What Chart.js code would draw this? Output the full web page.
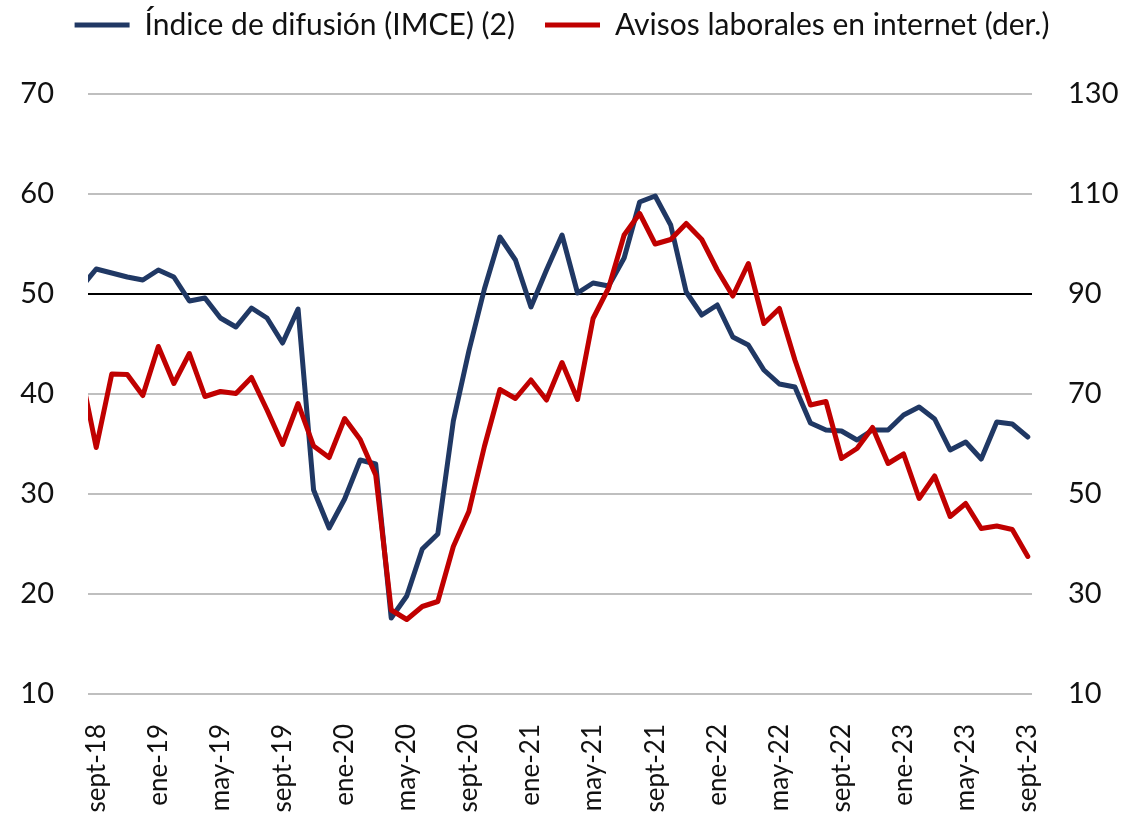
<!DOCTYPE html>
<html>
<head>
<meta charset="utf-8">
<script src="https://cdn.jsdelivr.net/npm/chart.js@4.4.0/dist/chart.umd.min.js"></script>
<style>
  html, body { margin: 0; padding: 0; background: #fff; }
  #wrap { width: 1124px; height: 824px; }
</style>
</head>
<body>
<div id="wrap"><canvas id="chart"></canvas></div>
<script>
// months, aug-18 .. sept-23 (first one sits just left of the axis and gets clipped)
const months = [
  "ago-18", "sept-18", "oct-18", "nov-18", "dic-18",
  "ene-19", "feb-19", "mar-19", "abr-19", "may-19", "jun-19", "jul-19", "ago-19", "sept-19", "oct-19", "nov-19", "dic-19",
  "ene-20", "feb-20", "mar-20", "abr-20", "may-20", "jun-20", "jul-20", "ago-20", "sept-20", "oct-20", "nov-20", "dic-20",
  "ene-21", "feb-21", "mar-21", "abr-21", "may-21", "jun-21", "jul-21", "ago-21", "sept-21", "oct-21", "nov-21", "dic-21",
  "ene-22", "feb-22", "mar-22", "abr-22", "may-22", "jun-22", "jul-22", "ago-22", "sept-22", "oct-22", "nov-22", "dic-22",
  "ene-23", "feb-23", "mar-23", "abr-23", "may-23", "jun-23", "jul-23", "ago-23", "sept-23"
];

// months that get a tick label
const tickMonths = [
  "sept-18", "ene-19", "may-19", "sept-19", "ene-20", "may-20", "sept-20", "ene-21",
  "may-21", "sept-21", "ene-22", "may-22", "sept-22", "ene-23", "may-23", "sept-23"
];

const imce = [
  50.6, 52.5, 52.1, 51.7, 51.4, 52.4, 51.7, 49.3, 49.6, 47.6, 46.7, 48.6, 47.6, 45.1, 48.5, 30.4,
  26.6, 29.5, 33.4, 33.0, 17.6, 19.8, 24.5, 26.0, 37.3, 44.3, 50.5, 55.7, 53.4, 48.7, 52.4, 55.9,
  50.1, 51.1, 50.8, 53.6, 59.2, 59.8, 56.9, 50.2, 47.9, 48.9, 45.7, 44.9, 42.4, 41.0, 40.7, 37.1,
  36.4, 36.3, 35.4, 36.4, 36.4, 37.9, 38.7, 37.5, 34.4, 35.2, 33.5, 37.2, 37.0, 35.7
];

const avisos = [
  74.5, 59.3, 74.0, 73.9, 69.7, 79.5, 72.1, 78.1, 69.5, 70.5, 70.1, 73.3, 66.8, 59.9, 68.1, 59.6,
  57.3, 65.1, 60.9, 53.8, 26.8, 24.9, 27.5, 28.5, 39.5, 46.5, 59.5, 70.9, 69.1, 72.8, 68.8, 76.3,
  68.9, 85.1, 91.2, 101.8, 106.1, 100.0, 100.9, 104.1, 100.9, 94.8, 89.6, 96.1, 84.1, 87.1, 76.8, 67.8,
  68.5, 57.1, 59.1, 63.3, 56.1, 58.0, 49.1, 53.6, 45.5, 48.1, 43.1, 43.6, 42.9, 37.5
];

const leftTicks = [10, 20, 30, 40, 50, 60, 70];
const rightTicks = [10, 30, 50, 70, 90, 110, 130];

const BLUE = "#203864";
const RED = "#c00000";
const GRID = "#bfbfbf";
const FONT = "Lato, 'DejaVu Sans', sans-serif";

const toPoints = (arr) => arr.map((v, i) => ({ x: i, y: v }));

// fixed legend band on top so the plot area lands where the original has it;
// legend padding also spaces the two items, so pull the band up a bit
const legendHeight = {
  id: "legendHeight",
  beforeInit(chart) {
    const fit = chart.legend.fit;
    chart.legend.fit = function () {
      fit.call(this);
      this.height = 94;
    };
  },
  afterLayout(chart) {
    chart.legend.top -= 20;
    chart.legend.bottom -= 20;
  },
};

new Chart(document.getElementById("chart"), {
  type: "line",
  data: {
    datasets: [
      {
        label: "Índice de difusión (IMCE) (2)",
        data: toPoints(imce),
        borderColor: BLUE,
        backgroundColor: BLUE,
        pointBorderWidth: 5,
        yAxisID: "y",
        order: 1,
      },
      {
        label: "Avisos laborales en internet (der.)",
        data: toPoints(avisos),
        borderColor: RED,
        backgroundColor: RED,
        pointBorderWidth: 5,
        yAxisID: "y1",
        order: 0,
      },
    ],
  },
  options: {
    responsive: true,
    maintainAspectRatio: false,
    animation: false,
    layout: { padding: 0 },
    elements: {
      point: { radius: 0, pointStyle: "line" },
      line: { borderWidth: 5, tension: 0, borderJoinStyle: "round", borderCapStyle: "round" },
    },
    plugins: {
      tooltip: { enabled: false },
      legend: {
        position: "top",
        labels: {
          usePointStyle: true,
          pointStyle: "line",
          pointStyleWidth: 55,
          padding: 30,
          color: "#111",
          font: { family: FONT, size: 30 },
          sort: (a, b) => a.datasetIndex - b.datasetIndex,
        },
      },
    },
    scales: {
      x: {
        type: "linear",
        min: 0.47,
        max: 61.27,
        grid: { display: false },
        border: { display: false },
        afterBuildTicks(scale) {
          scale.ticks = tickMonths.map((m) => ({ value: months.indexOf(m) }));
        },
        afterFit(scale) {
          scale.height = 130;
        },
        ticks: {
          autoSkip: false,
          minRotation: 90,
          maxRotation: 90,
          padding: 22,
          color: "#111",
          font: { family: FONT, size: 26 },
          callback: (value) => months[value],
        },
      },
      y: {
        position: "left",
        min: 10,
        max: 70,
        afterBuildTicks(scale) {
          scale.ticks = leftTicks.map((v) => ({ value: v }));
        },
        afterFit(scale) {
          scale.width = 88;
        },
        border: { display: false },
        grid: {
          drawTicks: false,
          lineWidth: 2,
          color: (ctx) => (ctx.tick && ctx.tick.value === 50 ? "#000" : GRID),
        },
        ticks: {
          padding: 34,
          color: "#111",
          font: { family: FONT, size: 29 },
        },
      },
      y1: {
        position: "right",
        min: 10,
        max: 130,
        afterBuildTicks(scale) {
          scale.ticks = rightTicks.map((v) => ({ value: v }));
        },
        afterFit(scale) {
          scale.width = 92;
        },
        border: { display: false },
        grid: { display: false, drawTicks: false },
        ticks: {
          padding: 36,
          color: "#111",
          font: { family: FONT, size: 29 },
        },
      },
    },
  },
  plugins: [legendHeight],
});
</script>
</body>
</html>
